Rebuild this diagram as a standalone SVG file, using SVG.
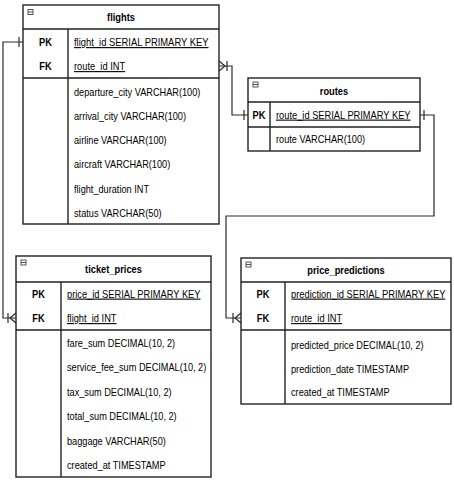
<svg xmlns="http://www.w3.org/2000/svg" width="454" height="482" viewBox="0 0 454 482">
<style>
.box{fill:#fff;stroke:#222;stroke-width:1.4}
.ln{stroke:#222;stroke-width:1.4;fill:none}
.ic{fill:none;stroke:#444;stroke-width:0.9}
.t{font-family:"Liberation Sans",Arial,sans-serif;font-size:11px;fill:#000}
.b{font-weight:bold;text-anchor:middle}
.u{text-decoration:underline}
.cn{stroke:#2a2a2a;stroke-width:1.2;fill:none}
</style>
<defs>
<marker id="one" viewBox="-15 -10 20 20" markerWidth="20" markerHeight="20" refX="0" refY="0" markerUnits="userSpaceOnUse" orient="auto-start-reverse">
<path d="M-4,-5V5" stroke="#2a2a2a" stroke-width="1.2" fill="none"/>
</marker>
<marker id="many" viewBox="-15 -10 20 20" markerWidth="20" markerHeight="20" refX="0" refY="0" markerUnits="userSpaceOnUse" orient="auto-start-reverse">
<path d="M0,-5L-6,0L0,5M-8,-5V5" stroke="#2a2a2a" stroke-width="1.2" fill="none"/>
</marker>
</defs>

<g id="connectors">
<path class="cn" d="M23,42H3V318H16" marker-start="url(#one)" marker-end="url(#many)"/>
<path class="cn" d="M219,66H232V115H248" marker-start="url(#many)" marker-end="url(#one)"/>
<path class="cn" d="M420,115H434V216H226V318H241" marker-start="url(#one)" marker-end="url(#many)"/>
</g>

<g id="flights">
<rect class="box" x="23" y="5" width="196" height="219"/>
<path class="ln" d="M23,29H219M23,78H219M68,29V224"/>
<rect class="ic" x="28" y="9.5" width="5" height="5"/><path class="ic" d="M28,12H33"/>
<text class="t b" transform="translate(121 21) scale(.845 1)">flights</text>
<text class="t b" transform="translate(45.5 46) scale(.845 1)">PK</text>
<text class="t b" transform="translate(45.5 70) scale(.845 1)">FK</text>
<text class="t u" transform="translate(74 46) scale(.855 1)">flight_id SERIAL PRIMARY KEY</text>
<text class="t u" transform="translate(74 70) scale(.845 1)">route_id INT</text>
<text class="t" transform="translate(74 95.7) scale(.835 1)">departure_city VARCHAR(100)</text>
<text class="t" transform="translate(74 119.9) scale(.835 1)">arrival_city VARCHAR(100)</text>
<text class="t" transform="translate(74 144.1) scale(.835 1)">airline VARCHAR(100)</text>
<text class="t" transform="translate(74 168.3) scale(.835 1)">aircraft VARCHAR(100)</text>
<text class="t" transform="translate(74 192.5) scale(.835 1)">flight_duration INT</text>
<text class="t" transform="translate(74 216.7) scale(.835 1)">status VARCHAR(50)</text>
</g>

<g id="routes">
<rect class="box" x="248" y="78" width="172" height="73"/>
<path class="ln" d="M248,102H420M248,127H420M270,102V151"/>
<rect class="ic" x="253" y="82" width="5" height="5"/><path class="ic" d="M253,84.5H258"/>
<text class="t b" transform="translate(334 95) scale(.845 1)">routes</text>
<text class="t b" transform="translate(259 118.5) scale(.845 1)">PK</text>
<text class="t u" transform="translate(276 118.5) scale(.845 1)">route_id SERIAL PRIMARY KEY</text>
<text class="t" transform="translate(276 143) scale(.835 1)">route VARCHAR(100)</text>
</g>

<g id="ticket_prices">
<rect class="box" x="16" y="256" width="195" height="221"/>
<path class="ln" d="M16,282H211M16,330H211M61,282V477"/>
<rect class="ic" x="21" y="260" width="5" height="5"/><path class="ic" d="M21,262.5H26"/>
<text class="t b" transform="translate(113.5 273) scale(.845 1)">ticket_prices</text>
<text class="t b" transform="translate(38.5 297.5) scale(.845 1)">PK</text>
<text class="t b" transform="translate(38.5 322) scale(.845 1)">FK</text>
<text class="t u" transform="translate(67 297.5) scale(.845 1)">price_id SERIAL PRIMARY KEY</text>
<text class="t u" transform="translate(67 322) scale(.845 1)">flight_id INT</text>
<text class="t" transform="translate(67 346.5) scale(.835 1)">fare_sum DECIMAL(10, 2)</text>
<text class="t" transform="translate(67 371) scale(.835 1)">service_fee_sum DECIMAL(10, 2)</text>
<text class="t" transform="translate(67 395.5) scale(.835 1)">tax_sum DECIMAL(10, 2)</text>
<text class="t" transform="translate(67 420) scale(.835 1)">total_sum DECIMAL(10, 2)</text>
<text class="t" transform="translate(67 444.5) scale(.835 1)">baggage VARCHAR(50)</text>
<text class="t" transform="translate(67 469) scale(.835 1)">created_at TIMESTAMP</text>
</g>

<g id="price_predictions">
<rect class="box" x="241" y="258" width="210" height="146"/>
<path class="ln" d="M241,282H451M241,330H451M285,282V404"/>
<rect class="ic" x="246" y="262" width="5" height="5"/><path class="ic" d="M246,264.5H251"/>
<text class="t b" transform="translate(346 274) scale(.845 1)">price_predictions</text>
<text class="t b" transform="translate(263 297.5) scale(.845 1)">PK</text>
<text class="t b" transform="translate(263 322) scale(.845 1)">FK</text>
<text class="t u" transform="translate(291 297.5) scale(.85 1)">prediction_id SERIAL PRIMARY KEY</text>
<text class="t u" transform="translate(291 322) scale(.845 1)">route_id INT</text>
<text class="t" transform="translate(291 349) scale(.835 1)">predicted_price DECIMAL(10, 2)</text>
<text class="t" transform="translate(291 372.5) scale(.835 1)">prediction_date TIMESTAMP</text>
<text class="t" transform="translate(291 396) scale(.835 1)">created_at TIMESTAMP</text>
</g>
</svg>
